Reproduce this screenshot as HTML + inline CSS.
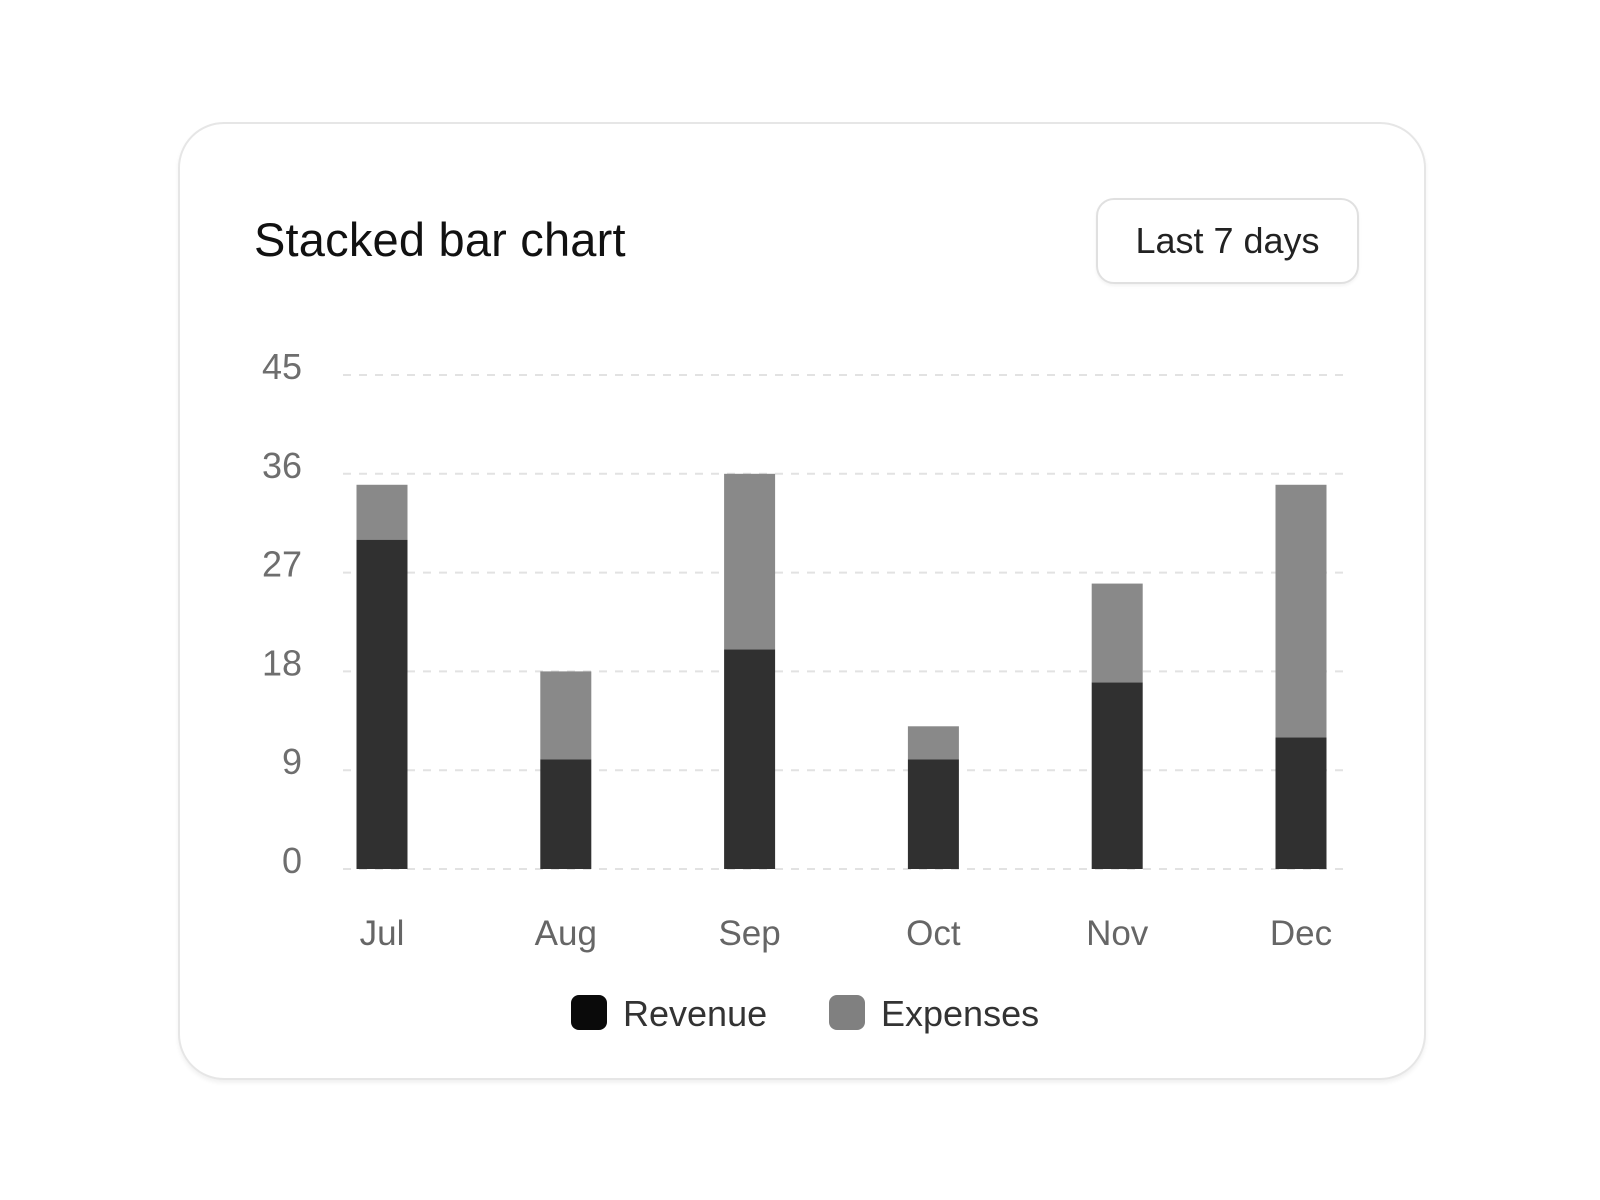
<!DOCTYPE html>
<html><head><meta charset="utf-8"><style>
body{margin:0;width:1600px;height:1200px;background:#fff;font-family:"Liberation Sans",sans-serif;overflow:hidden}
.card{position:absolute;left:178px;top:122px;width:1248px;height:958px;border:2px solid #e6e6e6;border-radius:46px;box-shadow:0 3px 4px rgba(0,0,0,0.06);box-sizing:border-box;background:#fff}
.title{position:absolute;left:254px;top:212px;font-size:47px;color:#111;letter-spacing:0.2px}
.btn{position:absolute;left:1096px;top:198px;width:263px;height:86px;border:2px solid #e0e0e0;border-radius:18px;box-sizing:border-box;font-size:36px;color:#222;display:flex;align-items:center;justify-content:center;box-shadow:0 2px 3px rgba(0,0,0,0.05)}
svg{position:absolute;left:0;top:0}
</style></head><body>
<div class="card"></div>
<div class="title">Stacked bar chart</div>
<div class="btn">Last 7 days</div>
<svg id="chart" width="1600" height="1200"></svg>
<script>
const categories=["Jul","Aug","Sep","Oct","Nov","Dec"];
const revenue=[30,10,20,10,17,12];
const expenses=[5,8,16,3,9,23];
const yTicks=[0,9,18,27,36,45];
const NS="http://www.w3.org/2000/svg";
const svg=document.getElementById('chart');
const y0=869,yTop=375,yMax=45,gx0=343,gx1=1345;
const y=v=>y0-(v/yMax)*(y0-yTop);
const x=i=>382+i*183.8;
const bw=51;
function mk(t,a){const e=document.createElementNS(NS,t);for(const k in a)e.setAttribute(k,a[k]);svg.appendChild(e);return e;}
yTicks.forEach(v=>{
  const l=mk('line',{x1:gx0,x2:gx1,y1:y(v),y2:y(v),stroke:'#e2e2e2','stroke-width':2,'stroke-dasharray':'8 8'});
  
  
  const t=mk('text',{x:302,y:y(v)+4,'text-anchor':'end','font-size':36,fill:'#6e6e6e','font-family':'Liberation Sans, sans-serif'});
  t.textContent=v;
  
  
});
categories.forEach((c,i)=>{
  const r=mk('rect',{x:x(i)-bw/2,y:y(revenue[i]),width:bw,height:y0-y(revenue[i]),fill:'#303030'});
  
  
  const e=mk('rect',{x:x(i)-bw/2,y:y(revenue[i]+expenses[i]),width:bw,height:y(revenue[i])-y(revenue[i]+expenses[i]),fill:'#898989'});
  
  
  const t=mk('text',{x:x(i),y:945,'text-anchor':'middle','font-size':35,fill:'#666','font-family':'Liberation Sans, sans-serif'});
  t.textContent=c;
  
  
});
const legend=[["Revenue","#0a0a0a",571,623],["Expenses","#808080",829,881]];
legend.forEach(([n,col,sx,tx])=>{
  const s=mk('rect',{x:sx,y:995,width:36,height:35,rx:8,fill:col});
  
  
  const t=mk('text',{x:tx,y:1026,'font-size':36,fill:'#333','font-family':'Liberation Sans, sans-serif'});
  t.textContent=n;
  
  
});
</script>
</body></html>
